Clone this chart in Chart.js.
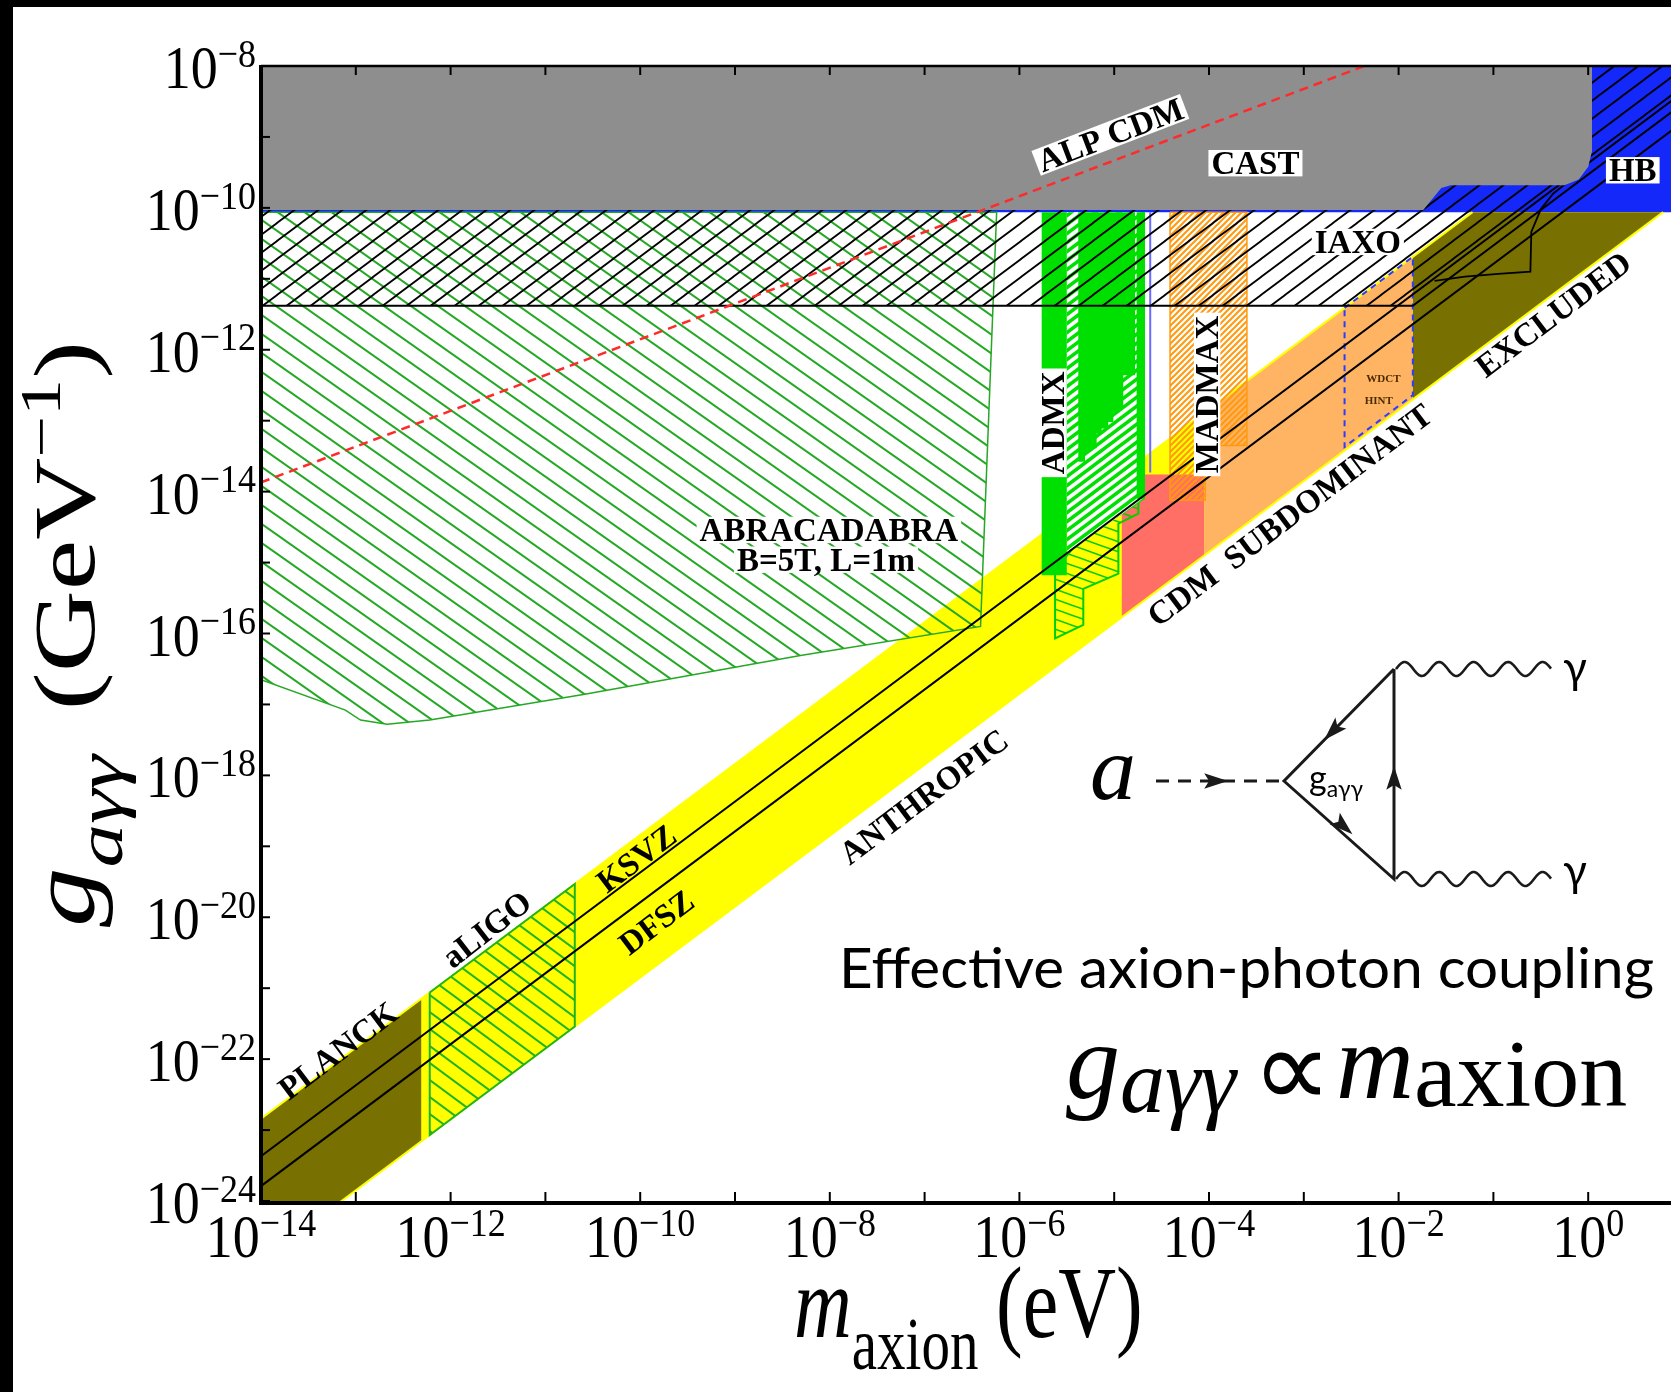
<!DOCTYPE html>
<html>
<head>
<meta charset="utf-8">
<script src="https://cdn.jsdelivr.net/npm/chart.js@4.4.1/dist/chart.umd.min.js"></script>
<style>
  html, body { margin: 0; padding: 0; background: #000; overflow: hidden; width: 1671px; height: 1392px; }
  #moldura { position: absolute; left: 13px; top: 7px; width: 1700px; height: 1385px; background: #fff; }
</style>
</head>
<body>
<div id="moldura"><canvas id="grafico" width="1700" height="1385"></canvas></div>
<script>
// everything below is log10 of the value: [log10 m_axion (eV), log10 g (GeV^-1)]
const massTicks = [-14, -12, -10, -8, -6, -4, -2, 0];
const couplingTicks = [-8, -10, -12, -14, -16, -18, -20, -22, -24];

const hbRegion = [[-14, -10.06], [1.5, -10.06], [1.5, -7.5], [-14, -7.5]];
const castRegion = [[-14, -7.5], [0.04, -7.5], [0.04, -9.2], [0.0, -9.42], [-0.1, -9.6], [-0.25, -9.68],
                    [-1.45, -9.68], [-1.55, -9.72], [-1.74, -10.03], [-14, -10.03]];
const axionBand = [[-14, -22.84], [-1.22, -10.06], [0.79, -10.06], [-14, -24.85]];
const bandUpperEdge = [[-14, -22.84], [-1.22, -10.06]];
const bandLowerEdge = [[-14, -24.85], [0.79, -10.06]];
const planckRegion = [[-14, -22.84], [-12.31, -21.15], [-12.31, -23.16], [-14, -24.85]];
const excludedRegion = [[-1.85, -10.69], [-1.22, -10.06], [0.79, -10.06], [-1.85, -12.70]];
const cdmRegion = [[-4.92, -13.76], [-4.05, -13.76], [-4.05, -14.90], [-4.92, -15.77]];
const subdominantRegion = [[-4.05, -12.89], [-1.85, -10.69], [-1.85, -12.70], [-4.05, -14.90]];

const abracadabraRegion = [[-14, -10.06], [-6.24, -10.06], [-6.41, -15.9], [-8.31, -16.31], [-10.6, -16.86],
                           [-12.22, -17.22], [-12.67, -17.28], [-12.95, -17.22], [-13.11, -17.08], [-14, -16.65]];
const aligoRegion = [[-12.22, -21.06], [-10.69, -19.53], [-10.69, -21.54], [-12.22, -23.07], [-12.22, -21.06]];

const admxReach = [[-5.50, -10.06], [-4.675, -10.06], [-4.675, -14.1], [-5.50, -14.85]];
const admxColumn = [[-5.765, -10.06], [-5.50, -10.06], [-5.50, -15.18], [-5.765, -15.18]];
const admxSteps = [[-5.379, -10.06], [-4.78, -10.06], [-4.78, -12.36], [-4.904, -12.36], [-4.904, -12.83],
                   [-4.939, -12.83], [-4.939, -12.88], [-5.009, -12.88], [-5.009, -13.02], [-5.062, -13.02],
                   [-5.062, -13.11], [-5.132, -13.11], [-5.132, -13.18], [-5.185, -13.18], [-5.185, -13.39],
                   [-5.255, -13.39], [-5.255, -13.44], [-5.308, -13.44], [-5.308, -13.58], [-5.379, -13.58]];
const admxStrip = [[-4.763, -10.06], [-4.675, -10.06], [-4.675, -14.10], [-4.763, -14.10]];
const admxFuture = [[-5.624, -15.11], [-5.624, -16.07], [-5.326, -15.88], [-5.326, -15.37], [-4.956, -15.155],
                    [-4.956, -14.45], [-4.745, -14.31], [-4.745, -13.65], [-5.624, -15.11]];
const madmaxRegion = [[-4.411, -10.06], [-3.60, -10.06], [-3.60, -13.35], [-4.04, -13.35], [-4.04, -14.12],
                      [-4.411, -14.12], [-4.411, -10.06]];
const blueLimit = [[-4.62, -10.06], [-4.62, -13.73]];
const hintBox = [[-2.57, -11.41], [-1.85, -10.69], [-1.85, -12.64], [-2.57, -13.37], [-2.57, -11.41]];

const ksvzLine = [[-14, -23.37], [1.5, -7.87]];
const dfszLine = [[-14, -23.79], [1.5, -8.29]];
const iaxoRegion = [[-14, -7.5], [2.03, -7.5], [-1.85, -11.38], [-14, -11.38]];
const iaxoEdge = [[-14, -11.38], [-1.85, -11.38], [2.03, -7.5]];
const iaxoCurve = [[-1.62, -11.03], [-1.3, -10.97], [-0.95, -10.93], [-0.61, -10.9], [-0.6, -10.34],
                   [-0.5, -10.02], [-0.37, -9.8], [-0.23, -9.65]];
const alpCdmLine = [[-14, -13.87], [-2.36, -8.0]];

const OX = 13, OY = 7;   // canvas offset inside the black frame
const serif = '"Liberation Serif", "Times New Roman", serif';
const sans = 'Lato, "Noto Sans", sans-serif';

function pontos(lista) {
  return lista.map(p => ({ x: Math.pow(10, p[0]), y: Math.pow(10, p[1]) }));
}

// diagonal line fill; the tile is w x h so the lines repeat without seams
function hachura(cor, largura, w, h, subindo, fundo) {
  const c = document.createElement('canvas');
  c.width = w; c.height = h;
  const g = c.getContext('2d');
  if (fundo) { g.fillStyle = fundo; g.fillRect(0, 0, w, h); }
  g.strokeStyle = cor; g.lineWidth = largura;
  for (let k = -1; k <= 1; k++) {
    g.beginPath();
    if (subindo) { g.moveTo(-w, 2 * h + k * h); g.lineTo(2 * w, -h + k * h); }
    else { g.moveTo(-w, -h + k * h); g.lineTo(2 * w, 2 * h + k * h); }
    g.stroke();
  }
  return g.createPattern(c, 'repeat');
}

function area(lista, fundo, borda, largura) {
  return { data: pontos(lista), showLine: true, fill: 'shape', backgroundColor: fundo,
           borderColor: borda || 'rgba(0,0,0,0)', borderWidth: largura || 1, pointRadius: 0, tension: 0 };
}
function linha(lista, cor, largura, tracejado) {
  return { data: pontos(lista), showLine: true, fill: false, borderColor: cor, borderWidth: largura,
           borderDash: tracejado || [], pointRadius: 0, tension: 0 };
}

// bottom layer first
const camadas = [
  area(hbRegion, '#1428fa'),
  area(axionBand, '#ffff00'),
  area(planckRegion, '#787000'),
  area(excludedRegion, '#787000'),
  area(cdmRegion, '#ff6f66'),
  area(subdominantRegion, '#ffb464'),
  linha(bandUpperEdge, '#ffff00', 2),
  linha(bandLowerEdge, '#ffff00', 2),
  area(abracadabraRegion, hachura('#25a825', 2, 27, 19, false), '#25a825', 1.5),
  area(aligoRegion, hachura('#1fb41f', 2, 23, 17, false), '#1fb41f', 2),
  area(admxFuture, hachura('#00cc00', 1.6, 28, 10, false), '#00d000', 2),
  area(admxReach, hachura('#00e000', 3.5, 12, 9, true, '#ffffff')),
  area(admxColumn, '#00e000'),
  area(admxSteps, '#00e000'),
  area(admxStrip, '#00e000'),
  area(madmaxRegion, hachura('#ff9a10', 2, 6, 6, true), '#ff9a10', 1.5),
  linha(blueLimit, '#6a6aff', 2),
  linha(hintBox, '#2a3cff', 2, [6, 5]),
  linha(ksvzLine, '#000', 2),
  linha(dfszLine, '#000', 2),
  area(iaxoRegion, hachura('#000', 1.8, 24, 18, true)),
  linha(iaxoEdge, '#000', 2),
  linha(iaxoCurve, '#000', 1.8),
  area(castRegion, '#8e8e8e'),
  linha(alpCdmLine, '#ff2a2a', 2.5, [9, 6])
];
camadas.forEach((d, i) => { d.order = camadas.length - i; });

const rotulos = [
  { texto: 'ALP CDM', m: -5.04, g: -8.97, ang: -21, caixa: true },
  { texto: 'CAST', m: -3.51, g: -9.37, ang: 0, caixa: true },
  { texto: 'IAXO', m: -2.43, g: -10.48, ang: 0, caixa: true },
  { texto: 'HB', m: 0.47, g: -9.47, ang: 0, caixa: true },
  { texto: 'EXCLUDED', m: -0.37, g: -11.5, ang: -37 },
  { texto: 'CDM  SUBDOMINANT', m: -3.15, g: -14.33, ang: -37 },
  { texto: 'ANTHROPIC', m: -7.01, g: -18.3, ang: -37 },
  { texto: 'KSVZ', m: -10.04, g: -19.17, ang: -37 },
  { texto: 'DFSZ', m: -9.83, g: -20.07, ang: -37 },
  { texto: 'aLIGO', m: -11.62, g: -20.17, ang: -38 },
  { texto: 'PLANCK', m: -13.19, g: -21.88, ang: -37 },
  { texto: 'ABRACADABRA', m: -8.01, g: -14.54, ang: 0, caixa: true },
  { texto: 'B=5T, L=1m', m: -8.04, g: -14.96, ang: 0, caixa: true },
  { texto: 'ADMX', m: -5.64, g: -13.03, ang: -90, caixa: true },
  { texto: 'MADMAX', m: -4.02, g: -12.63, ang: -90, caixa: true },
  { texto: 'WDCT', m: -2.16, g: -12.41, ang: 0, tam: 11, cor: '#4a2a00' },
  { texto: 'HINT', m: -2.21, g: -12.71, ang: 0, tam: 11, cor: '#4a2a00' }
];

function rotulo(ctx, r, x, y) {
  const tam = r.tam || 33;
  ctx.save();
  ctx.translate(x, y);
  ctx.rotate(r.ang * Math.PI / 180);
  ctx.font = 'bold ' + tam + 'px ' + serif;
  const w = ctx.measureText(r.texto).width;
  if (r.caixa) {
    ctx.fillStyle = '#fff';
    ctx.fillRect(-w / 2 - 3, -tam * 0.40, w + 6, tam * 0.80);
  }
  ctx.fillStyle = r.cor || '#000';
  ctx.textAlign = 'center';
  ctx.textBaseline = 'alphabetic';
  ctx.fillText(r.texto, 0, tam * 0.33);
  ctx.restore();
}

// "10" with a raised exponent, a little taller than wide
function potencia(ctx, exp, x, y, alinhar) {
  const base = '10', sup = exp === 0 ? '0' : '\u2212' + Math.abs(exp);
  ctx.font = '54px ' + serif;
  const wb = ctx.measureText(base).width;
  ctx.font = '36px ' + serif;
  const we = ctx.measureText(sup).width;
  const x0 = alinhar === 'right' ? x - wb - we : x - (wb + we) / 2;
  ctx.save();
  ctx.translate(x0, y);
  ctx.scale(1, 1.12);
  ctx.textAlign = 'left';
  ctx.font = '54px ' + serif;
  ctx.fillText(base, 0, 0);
  ctx.font = '36px ' + serif;
  ctx.fillText(sup, wb, -19);
  ctx.restore();
}

// text made of pieces: [texto, fonte, deslocamento vertical, espaco depois]
function composto(ctx, partes, x, y) {
  let cx = x;
  partes.forEach(p => {
    ctx.font = p[1];
    ctx.fillText(p[0], cx, y + (p[2] || 0));
    cx += ctx.measureText(p[0]).width + (p[3] || 0);
  });
  return cx;
}
function larguraComposto(ctx, partes) {
  return partes.reduce((s, p) => { ctx.font = p[1]; return s + ctx.measureText(p[0]).width + (p[3] || 0); }, 0);
}

function seta(ctx, x, y, ang, t) {
  ctx.save();
  ctx.translate(x, y);
  ctx.rotate(ang);
  ctx.beginPath();
  ctx.moveTo(t, 0);
  ctx.lineTo(-t * 0.7, -t * 0.55);
  ctx.lineTo(-t * 0.35, 0);
  ctx.lineTo(-t * 0.7, t * 0.55);
  ctx.closePath();
  ctx.fill();
  ctx.restore();
}

function onda(ctx, x0, x1, y, amp, periodo) {
  ctx.beginPath();
  for (let x = x0; x <= x1; x += 1) {
    const yy = y - amp * Math.sin(2 * Math.PI * (x - x0) / periodo);
    if (x === x0) ctx.moveTo(x, yy); else ctx.lineTo(x, yy);
  }
  ctx.stroke();
}

const desenhos = {
  id: 'desenhos',
  afterDraw(chart) {
    const ctx = chart.ctx;
    const sx = chart.scales.x, sy = chart.scales.y;
    const px = e => sx.getPixelForValue(Math.pow(10, e));
    const py = e => sy.getPixelForValue(Math.pow(10, e));
    const { left, top, bottom, right } = chart.chartArea;

    // region names
    rotulos.forEach(r => rotulo(ctx, r, px(r.m), py(r.g)));

    // frame and inward ticks
    ctx.save();
    ctx.strokeStyle = '#000';
    ctx.lineWidth = 2.5;
    ctx.beginPath(); ctx.moveTo(left, top); ctx.lineTo(right, top); ctx.stroke();
    ctx.lineWidth = 4;
    ctx.beginPath(); ctx.moveTo(left, top - 1); ctx.lineTo(left, bottom + 2); ctx.lineTo(right, bottom + 2); ctx.stroke();
    ctx.lineWidth = 2;
    for (let e = -14; e <= 1; e++) {
      const x = px(e);
      ctx.beginPath(); ctx.moveTo(x, top); ctx.lineTo(x, top + 9); ctx.stroke();
      ctx.beginPath(); ctx.moveTo(x, bottom); ctx.lineTo(x, bottom - 9); ctx.stroke();
    }
    for (let e = -24; e <= -8; e++) {
      const y = py(e);
      ctx.beginPath(); ctx.moveTo(left, y); ctx.lineTo(left + 9, y); ctx.stroke();
    }
    ctx.fillStyle = '#000';
    ctx.textBaseline = 'alphabetic';
    massTicks.forEach(e => potencia(ctx, e, px(e), bottom + 56, 'center'));
    couplingTicks.forEach(e => potencia(ctx, e, left - 5, py(e) + 22, 'right'));
    ctx.restore();

    // the rest is placed in page coordinates
    ctx.save();
    ctx.translate(-OX, -OY);
    ctx.fillStyle = '#000';
    ctx.strokeStyle = '#000';
    ctx.textAlign = 'left';
    ctx.textBaseline = 'alphabetic';

    // axis titles, stretched along the page height
    ctx.save();
    ctx.translate(794, 1337);
    ctx.scale(1, 1.28);
    composto(ctx, [['m', 'italic 80px ' + serif], ['axion', '57px ' + serif, 25]], 0, 0);
    ctx.font = '80px ' + serif;
    ctx.fillText('(eV)', 202, 0);
    ctx.restore();

    const tituloY = [['g', 'italic 90px ' + serif], ['a\u03b3\u03b3', 'italic 66px ' + serif, 28, 34],
                     ['(GeV', '86px ' + serif], ['\u22121', '56px ' + serif, -34], [')', '86px ' + serif]];
    ctx.save();
    ctx.translate(94, 634);
    ctx.rotate(-Math.PI / 2);
    const wt = larguraComposto(ctx, tituloY);
    ctx.scale(586 / wt, 1);
    composto(ctx, tituloY, -wt / 2, 0);
    ctx.restore();

    // axion -> two photons vertex
    ctx.lineWidth = 3;
    ctx.strokeStyle = '#1a1a1a';
    ctx.fillStyle = '#1a1a1a';
    ctx.setLineDash([13, 9]);
    ctx.beginPath(); ctx.moveTo(1156, 781); ctx.lineTo(1284, 781); ctx.stroke();
    ctx.setLineDash([]);
    ctx.beginPath();
    ctx.moveTo(1394, 669); ctx.lineTo(1284, 781); ctx.lineTo(1394, 879); ctx.lineTo(1394, 669);
    ctx.stroke();
    seta(ctx, 1214, 781, 0, 14);
    seta(ctx, 1334, 730, Math.atan2(112, -110), 14);
    seta(ctx, 1342, 825, Math.atan2(98, 110), 14);
    seta(ctx, 1394, 780, -Math.PI / 2, 14);
    ctx.lineWidth = 2.6;
    onda(ctx, 1396, 1551, 669, 7, 34.5);
    onda(ctx, 1396, 1551, 879, 7, 34.5);
    ctx.fillStyle = '#000';
    ctx.font = '44px ' + sans;
    ctx.fillText('\u03b3', 1563, 683);
    ctx.fillText('\u03b3', 1563, 886);
    composto(ctx, [['g', '34px ' + sans], ['a\u03b3\u03b3', '23px ' + sans, 7]], 1309, 790);
    ctx.font = 'italic 92px ' + serif;
    ctx.fillText('a', 1090, 799);

    // caption and proportionality
    ctx.font = '56px ' + sans;
    const frase = 'Effective axion-photon coupling';
    const wf = ctx.measureText(frase).width;
    ctx.save();
    ctx.translate(839, 988);
    ctx.scale(815 / wf, 1);
    ctx.fillText(frase, 0, 0);
    ctx.restore();
    composto(ctx, [['g', 'italic 108px ' + serif], ['a\u03b3\u03b3', 'italic 90px ' + serif, 14, 16],
                   ['\u221d', '112px ' + serif, 9, 4], ['m', 'italic 108px ' + serif],
                   ['axion', '96px ' + serif, 8]], 1066, 1098);
    ctx.restore();
  }
};

new Chart(document.getElementById('grafico'), {
  type: 'scatter',
  data: { datasets: camadas },
  options: {
    responsive: false,
    animation: false,
    events: [],
    layout: { padding: { left: 248, top: 59, right: 30, bottom: 191 } },
    plugins: { legend: { display: false }, tooltip: { enabled: false } },
    scales: {
      x: { type: 'logarithmic', min: 1e-14, max: 1e1, display: false },
      y: { type: 'logarithmic', min: 1e-24, max: 1e-8, display: false }
    }
  },
  plugins: [desenhos]
});
</script>
</body>
</html>
